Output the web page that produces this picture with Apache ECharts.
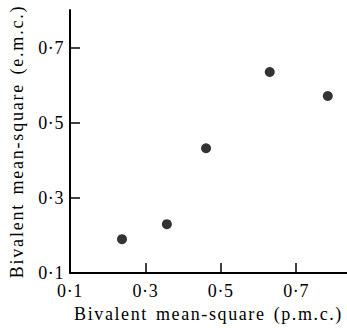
<!DOCTYPE html>
<html>
<head>
<meta charset="utf-8">
<script src="https://cdn.jsdelivr.net/npm/echarts@6/dist/echarts.min.js"></script>
<style>
  html, body { margin: 0; padding: 0; background: #fff; }
  #chart { width: 347px; height: 328px; }
  #chart text { letter-spacing: 0.6px; }
</style>
</head>
<body>
<div id="chart"></div>
<script>
  // Bivalent mean-square, p.m.c. (x) against e.m.c. (y)
  const pmc = [0.238, 0.357, 0.461, 0.630, 0.784];
  const emc = [0.190, 0.230, 0.432, 0.635, 0.571];
  const tickValues = [0.1, 0.3, 0.5, 0.7];
  const xTitle = 'Bivalent mean-square (p.m.c.)';
  const yTitle = 'Bivalent mean-square (e.m.c.)';

  const fmt = v => Number(v).toFixed(1).replace('.', '\u00b7');
  const font = '"Liberation Serif", "DejaVu Serif", serif';

  const chart = echarts.init(document.getElementById('chart'), null, { renderer: 'svg' });

  chart.setOption({
    animation: false,
    backgroundColor: '#fff',
    textStyle: { fontFamily: font, color: '#000' },
    grid: { left: 70, top: 10, right: 0, bottom: 55, outerBoundsMode: 'none' },
    xAxis: {
      type: 'value',
      min: 0.1,
      max: 0.835,
      name: xTitle,
      nameLocation: 'middle',
      nameGap: 30,
      nameTextStyle: { fontFamily: font, fontSize: 18, color: '#000' },
      axisLine: { lineStyle: { color: '#000', width: 2 } },
      axisTick: { inside: true, length: 10, lineStyle: { color: '#000', width: 1.5 }, customValues: [0.3, 0.5, 0.7] },
      axisLabel: { fontFamily: font, fontSize: 18, color: '#000', margin: 9, formatter: fmt, customValues: tickValues },
      splitLine: { show: false }
    },
    yAxis: {
      type: 'value',
      min: 0.1,
      max: 0.8,
      name: yTitle,
      nameLocation: 'middle',
      nameGap: 44,
      nameTextStyle: { fontFamily: font, fontSize: 18, color: '#000' },
      axisLine: { lineStyle: { color: '#000', width: 2 } },
      axisTick: { inside: true, length: 10, lineStyle: { color: '#000', width: 1.5 }, customValues: [0.3, 0.5, 0.7] },
      axisLabel: { fontFamily: font, fontSize: 18, color: '#000', margin: 6, formatter: fmt, customValues: tickValues },
      splitLine: { show: false }
    },
    series: [{
      type: 'scatter',
      symbol: 'circle',
      symbolSize: 10,
      itemStyle: { color: '#000' },
      data: pmc.map((x, i) => [x, emc[i]])
    }]
  });

  // the printed axis titles are set loosely spaced
  const spaceTitles = () => {
    document.querySelectorAll('#chart text').forEach(t => {
      if (t.textContent === xTitle) {
        t.style.letterSpacing = '1.6px';
        t.style.wordSpacing = '2px';
      } else if (t.textContent === yTitle) {
        t.style.letterSpacing = '1.8px';
        t.style.wordSpacing = '2px';
      }
    });
  };
  spaceTitles();
  chart.on('finished', spaceTitles);
</script>
</body>
</html>
